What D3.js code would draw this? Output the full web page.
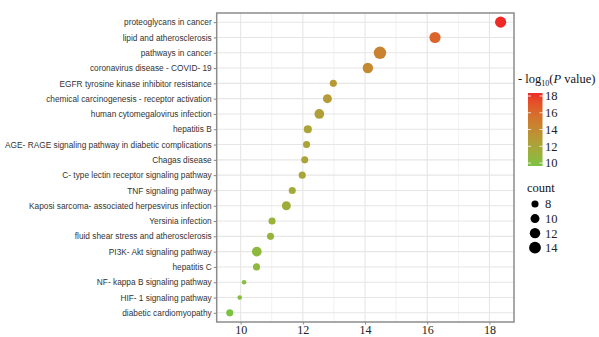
<!DOCTYPE html>
<html>
<head>
<meta charset="utf-8">
<script src="https://cdn.jsdelivr.net/npm/d3@7"></script>
<style>
  body { margin: 0; background: #fff; }
  svg { display: block; }
</style>
</head>
<body>
<svg id="chart" width="599" height="337"></svg>
<script>
// pathway terms, top to bottom
const pathways = [
  "proteoglycans in cancer",
  "lipid and atherosclerosis",
  "pathways in cancer",
  "coronavirus disease -  COVID- 19",
  "EGFR tyrosine kinase inhibitor resistance",
  "chemical carcinogenesis -  receptor activation",
  "human cytomegalovirus infection",
  "hepatitis B",
  "AGE- RAGE signaling pathway in diabetic complications",
  "Chagas disease",
  "C- type lectin receptor signaling pathway",
  "TNF signaling pathway",
  "Kaposi sarcoma- associated herpesvirus infection",
  "Yersinia infection",
  "fluid shear stress and atherosclerosis",
  "PI3K- Akt signaling pathway",
  "hepatitis C",
  "NF- kappa B signaling pathway",
  "HIF- 1 signaling pathway",
  "diabetic cardiomyopathy"
]
// -log10(P value)
const logP = [18.36, 16.25, 14.48, 14.09, 12.98, 12.79, 12.53, 12.16, 12.12, 12.06,
              11.98, 11.66, 11.47, 11.01, 10.96, 10.52, 10.51, 10.11, 9.97, 9.65]
const counts = [13, 13, 15, 12, 8, 10, 11, 9, 8, 8,
                8, 8, 10, 8, 8, 11, 8, 6, 6, 8]
const xTicks = [10, 12, 14, 16, 18]
const colorTicks = [10, 12, 14, 16, 18]
const sizeTicks = [8, 10, 12, 14]

const data = pathways.map((p, i) => ({ term: p, logP: logP[i], count: counts[i] }))

const svg = d3.select('#chart')
const panel = { left: 216.7, right: 514, top: 13, bottom: 322 }
const serif = "'Liberation Serif'"
const sans = "'Liberation Sans'"

const x = d3.scaleLinear()
  .domain([9.23, 18.79])
  .range([panel.left, panel.right])

const y = d3.scalePoint()
  .domain(pathways)
  .range([panel.top, panel.bottom])
  .padding(0.6)

const r = d3.scaleRadial()
  .domain([6, 15])
  .range([2.3, 6.2])

const color = d3.scaleLinear()
  .domain(d3.extent(logP))
  .range(["#7cc242", "#ee2a26"])
  .interpolate(d3.interpolateLab)

// grid
const grid = svg.append('g')
grid.selectAll('.minor')
  .data([11, 13, 15, 17])
  .enter().append('line')
  .attr('x1', d => x(d)).attr('x2', d => x(d))
  .attr('y1', panel.top).attr('y2', panel.bottom)
  .attr('stroke', '#ededed').attr('stroke-width', 0.8)
grid.selectAll('.majx')
  .data(xTicks)
  .enter().append('line')
  .attr('x1', d => x(d)).attr('x2', d => x(d))
  .attr('y1', panel.top).attr('y2', panel.bottom)
  .attr('stroke', '#e6e6e6').attr('stroke-width', 1.1)
grid.selectAll('.majy')
  .data(pathways)
  .enter().append('line')
  .attr('x1', panel.left).attr('x2', panel.right)
  .attr('y1', d => y(d)).attr('y2', d => y(d))
  .attr('stroke', '#e6e6e6').attr('stroke-width', 1.1)

// axes
const xAxis = svg.append('g')
  .attr('transform', `translate(0,${panel.bottom})`)
  .call(d3.axisBottom(x).tickValues(xTicks).tickSize(2.5).tickPadding(1))
xAxis.select('.domain').remove()
xAxis.selectAll('line').attr('stroke', '#888')
xAxis.selectAll('text')
  .style('font-family', serif).style('font-size', '12px').attr('fill', '#222')

const yAxis = svg.append('g')
  .attr('transform', `translate(${panel.left},0)`)
  .call(d3.axisLeft(y).tickSize(3).tickPadding(2))
yAxis.select('.domain').remove()
yAxis.selectAll('line').attr('stroke', '#888')
yAxis.selectAll('text')
  .style('font-family', sans).style('font-size', '8.3px').attr('fill', '#333')

// points
svg.append('g')
  .selectAll('circle')
  .data(data)
  .enter().append('circle')
  .attr('cx', d => x(d.logP))
  .attr('cy', d => y(d.term))
  .attr('r', d => r(d.count))
  .attr('fill', d => color(d.logP))

// panel border
svg.append('rect')
  .attr('x', panel.left).attr('y', panel.top)
  .attr('width', panel.right - panel.left)
  .attr('height', panel.bottom - panel.top)
  .attr('fill', 'none')
  .attr('stroke', '#8c8c8c')
  .attr('stroke-width', 1.5)

// colour legend
const leg = svg.append('g')
const title = leg.append('text')
  .attr('x', 518).attr('y', 83)
  .style('font-family', serif).style('font-size', '12.5px').attr('fill', '#111')
title.append('tspan').text('- log')
title.append('tspan').attr('dy', 3).style('font-size', '8px').text('10')
title.append('tspan').attr('dy', -3).text('(')
title.append('tspan').style('font-style', 'italic').text('P')
title.append('tspan').text(' value)')

const barTop = 93, barBottom = 166
const cbar = d3.scaleLinear().domain(d3.extent(logP)).range([barBottom, barTop])
const grad = svg.append('defs').append('linearGradient')
  .attr('id', 'grad').attr('x1', 0).attr('x2', 0).attr('y1', 1).attr('y2', 0)
d3.range(0, 1.01, 0.1).forEach(t => {
  const v = cbar.domain()[0] + t * (cbar.domain()[1] - cbar.domain()[0])
  grad.append('stop').attr('offset', t).attr('stop-color', color(v))
})
leg.append('rect')
  .attr('x', 528).attr('y', barTop)
  .attr('width', 14.5).attr('height', barBottom - barTop)
  .attr('fill', 'url(#grad)')
leg.selectAll('.cb')
  .data(colorTicks)
  .enter().append('g')
  .each(function (d) {
    const g = d3.select(this)
    g.append('line').attr('x1', 528).attr('x2', 531).attr('y1', cbar(d)).attr('y2', cbar(d))
      .attr('stroke', '#fff').attr('stroke-width', 0.8)
    g.append('line').attr('x1', 539.5).attr('x2', 542.5).attr('y1', cbar(d)).attr('y2', cbar(d))
      .attr('stroke', '#fff').attr('stroke-width', 0.8)
    g.append('text')
      .attr('x', 545).attr('y', cbar(d)).attr('dy', '0.35em')
      .style('font-family', serif).style('font-size', '12.5px').attr('fill', '#222')
      .text(d)
  })

// size legend
leg.append('text')
  .attr('x', 527).attr('y', 192)
  .style('font-family', serif).style('font-size', '12.5px').attr('fill', '#111')
  .text('count')
const sizeY = d3.scalePoint().domain(sizeTicks).range([204, 247.7])
leg.selectAll('.sz')
  .data(sizeTicks)
  .enter().append('g')
  .each(function (d) {
    const g = d3.select(this)
    g.append('circle').attr('cx', 535).attr('cy', sizeY(d)).attr('r', r(d)).attr('fill', '#000')
    g.append('text')
      .attr('x', 545).attr('y', sizeY(d)).attr('dy', '0.35em')
      .style('font-family', serif).style('font-size', '12.5px').attr('fill', '#222')
      .text(d)
  })
</script>
</body>
</html>
